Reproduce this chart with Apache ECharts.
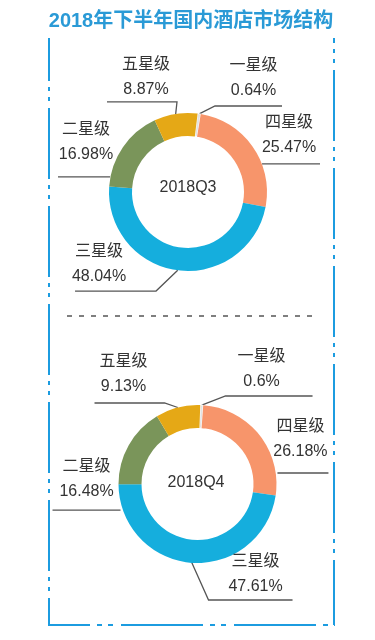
<!DOCTYPE html>
<html><head><meta charset="utf-8">
<script src="https://cdn.jsdelivr.net/npm/echarts@6/dist/echarts.min.js"></script>
<style>html,body{margin:0;padding:0;background:#fff}#c{width:375px;height:640px}</style>
</head><body><div id="c"></div>
<script>
const titleText = '2018年下半年国内酒店市场结构';
const categories = ['一星级', '四星级', '三星级', '二星级', '五星级'];
const periods = ['2018Q3', '2018Q4'];
const valuesQ3 = [0.64, 25.47, 48.04, 16.98, 8.87];
const valuesQ4 = [0.6, 26.18, 47.61, 16.48, 9.13];

const colors = ['#e2e2e2', '#f7956b', '#15aedd', '#7a955a', '#e5a816'];
const FONT = '"Liberation Sans", "Noto Sans CJK SC", sans-serif';
const FRAME = '#1c9ce0';

// per-label leader tweaks: [elbow dx, elbow dy, horizontal length, text dx, text dy, flat]
const labelTweaks = [
  [[15.8, -7.8, 67, 5, 1, 0], [9.2, 17.1, 58, -2, 0, 1], [-21.7, 20.7, -81, -16.5, 2.5, 0], [-12.9, 29.7, -52, 2, -6, 1], [1.3, -12, -70, 4, 4.5, 0]],
  [[23.8, -9.1, 87, -7.5, 2, 0], [18.3, 38.4, 51, -2.5, -4.5, 1], [16.7, 37.2, 84, 5, 3, 0], [-8.2, 64.9, -68, 0, -1.5, 1], [-13.3, -4.5, -70, -6, 0, 0]]
];

function makeLayout(si) {
  return function (params) {
    const t = labelTweaks[si][params.dataIndex];
    const p0 = params.labelLinePoints[0];
    const ex = p0[0] + t[0], ey = p0[1] + t[1];
    const endX = ex + t[2];
    const start = t[5] ? [ex, ey] : [p0[0], p0[1]];
    return {
      x: (ex + endX) / 2 + t[3],
      y: ey - 4 + t[4],
      align: 'center',
      verticalAlign: 'bottom',
      labelLinePoints: [start, [ex, ey], [endX, ey]]
    };
  };
}

function pieSeries(i, values, center, startAngle) {
  return {
    type: 'pie', center: center, radius: [56, 79], startAngle: startAngle, clockwise: true,
    avoidLabelOverlap: false, silent: true,
    label: { show: true, position: 'outside', formatter: '{b}\n{c}%', fontSize: 16, lineHeight: 25, color: '#333', fontFamily: FONT },
    labelLine: { show: true, length: 10, length2: 10, lineStyle: { color: '#555', width: 1.3 } },
    labelLayout: makeLayout(i),
    emphasis: { disabled: true },
    data: categories.map((n, k) => ({
      name: n, value: values[k],
      itemStyle: { color: colors[k], borderColor: '#fff', borderWidth: k === 0 ? 1 : 0 }
    }))
  };
}

function vline(x, y1, y2, offset) {
  return { type: 'line', silent: true, shape: { x1: x, y1: y1, x2: x, y2: y2 },
    style: { stroke: FRAME, lineWidth: 2, lineDash: [71, 6, 4, 6, 4, 7], lineDashOffset: offset } };
}

const chart = echarts.init(document.getElementById('c'), null, { renderer: 'canvas' });
chart.setOption({
  animation: false,
  backgroundColor: '#fff',
  graphic: [
    { type: 'text', x: 191, y: 21, silent: true, style: { text: titleText, fill: '#2a9ad6', font: 'bold 20px ' + FONT, align: 'center', verticalAlign: 'middle', textAlign: 'center', textVerticalAlign: 'middle' } },
    { type: 'text', x: 188, y: 188, silent: true, style: { text: periods[0], fill: '#333', font: '16px ' + FONT, align: 'center', verticalAlign: 'middle', textAlign: 'center', textVerticalAlign: 'middle' } },
    { type: 'text', x: 196, y: 483, silent: true, style: { text: periods[1], fill: '#333', font: '16px ' + FONT, align: 'center', verticalAlign: 'middle', textAlign: 'center', textVerticalAlign: 'middle' } },
    vline(49, 38, 625, 28),
    vline(334, 38, 625, 66),
    { type: 'line', silent: true, shape: { x1: 48, y1: 625, x2: 335, y2: 625 },
      style: { stroke: FRAME, lineWidth: 2, lineDash: [82, 7, 5, 6, 5, 8], lineDashOffset: 40 } },
    { type: 'line', silent: true, shape: { x1: 67, y1: 316, x2: 318, y2: 316 },
      style: { stroke: '#555', lineWidth: 1.5, lineDash: [5, 7] } }
  ],
  series: [
    pieSeries(0, valuesQ3, [188, 192], 83),
    pieSeries(1, valuesQ4, [197.5, 484], 88)
  ]
});
</script>
</body></html>
